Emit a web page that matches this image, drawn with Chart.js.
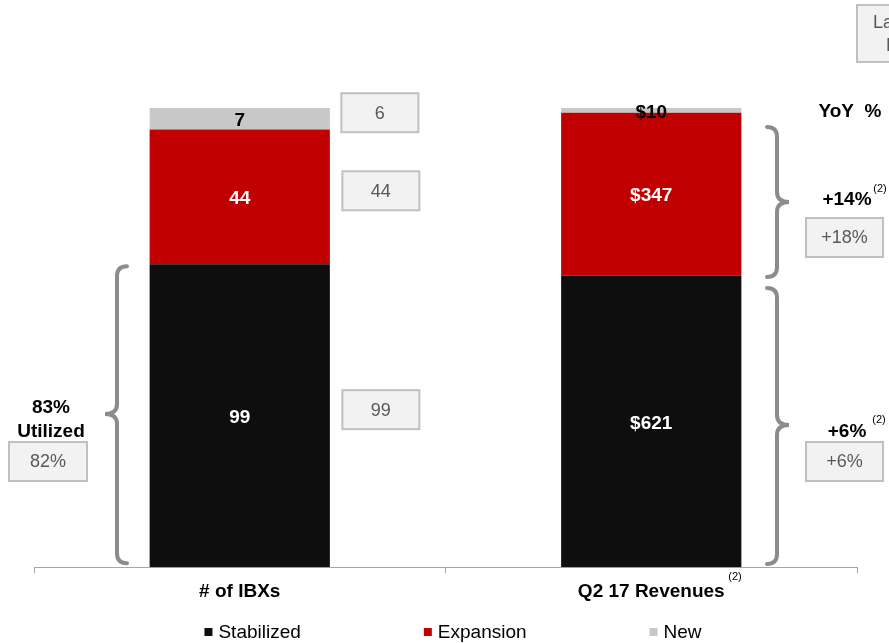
<!DOCTYPE html>
<html>
<head>
<meta charset="utf-8">
<script src="https://cdn.jsdelivr.net/npm/chart.js@4/dist/chart.umd.min.js"></script>
<style>
html,body{margin:0;padding:0;background:#fff;}
#wrap{position:relative;width:889px;height:643px;}
</style>
</head>
<body>
<div id="wrap"><canvas id="c" width="889" height="643"></canvas></div>
<script>
// ---- data ----
const categories = ['# of IBXs', 'Q2 17 Revenues'];
const seriesNames = ['Stabilized', 'Expansion', 'New'];
const stabilized = [99, 621];
const expansion = [44, 347];
const newer = [7, 10];
const valuePrefix = ['', '$'];
const priorIBX = ['99', '44', '6'];          // prior values boxes for # of IBXs (stabilized, expansion, new)
const utilization = ['83%', '82%'];          // current, prior
const yoyCurrent = ['+6%', '+14%'];          // stabilized, expansion
const yoyPrior = ['+6%', '+18%'];
const colors = ['#0e0e0e', '#c00000', '#c8c8c8'];

const FONT = '"Liberation Sans", Arial, sans-serif';
const rawSeries = [stabilized, expansion, newer];
const totals = categories.map((_, i) => rawSeries.reduce((s, arr) => s + arr[i], 0));
const share = arr => arr.map((v, i) => v / totals[i] * 100);

function drawBox(ctx, cx, cy, w, h, text) {
  ctx.save();
  ctx.fillStyle = '#f2f2f2';
  ctx.strokeStyle = '#c0c0c0';
  ctx.lineWidth = 2;
  ctx.fillRect(cx - w / 2, cy - h / 2, w, h);
  ctx.strokeRect(cx - w / 2, cy - h / 2, w, h);
  ctx.fillStyle = '#595959';
  ctx.font = '18px ' + FONT;
  ctx.textAlign = 'center';
  ctx.textBaseline = 'middle';
  ctx.fillText(text, cx, cy + 1);
  ctx.restore();
}
function text(ctx, s, x, y, size, bold, align, color) {
  ctx.save();
  ctx.font = (bold ? 'bold ' : '') + size + 'px ' + FONT;
  ctx.fillStyle = color || '#000';
  ctx.textAlign = align || 'center';
  ctx.textBaseline = 'middle';
  ctx.fillText(s, x, y);
  ctx.restore();
}
// brace: dir = -1 points left ("{"), +1 points right ("}")
function brace(ctx, x, top, bottom, mid, dir) {
  const r = 10, p = 12;
  ctx.save();
  ctx.strokeStyle = '#8c8c8c';
  ctx.lineWidth = 4;
  ctx.lineCap = 'round';
  ctx.beginPath();
  ctx.moveTo(x - dir * r, top);
  ctx.quadraticCurveTo(x, top, x, top + r);
  ctx.lineTo(x, mid - r);
  ctx.quadraticCurveTo(x, mid, x + dir * p, mid);
  ctx.quadraticCurveTo(x, mid, x, mid + r);
  ctx.lineTo(x, bottom - r);
  ctx.quadraticCurveTo(x, bottom, x - dir * r, bottom);
  ctx.stroke();
  ctx.restore();
}

const overlay = {
  id: 'overlay',
  afterDatasetsDraw(chart) {
    const ctx = chart.ctx;
    // value labels
    chart.data.datasets.forEach((ds, di) => {
      const meta = chart.getDatasetMeta(di);
      meta.data.forEach((el, i) => {
        const y = (el.y + el.base) / 2 + 2;
        text(ctx, valuePrefix[i] + ds.raw[i], el.x, y, 19, true, 'center', di === 2 ? '#000' : '#fff');
      });
    });
    const m0 = chart.getDatasetMeta(0).data, m1 = chart.getDatasetMeta(1).data, m2 = chart.getDatasetMeta(2).data;
    const L = 0;
    const barW = m0[L].width;
    // left bar prior boxes
    const bx = m0[L].x + barW / 2 + 51;
    drawBox(ctx, bx, (m0[L].y + m0[L].base) / 2 - 6, 77, 39, priorIBX[0]);
    drawBox(ctx, bx, (m1[L].y + m1[L].base) / 2 - 6, 77, 39, priorIBX[1]);
    drawBox(ctx, bx - 1, (m2[L].y + m2[L].base) / 2 - 6, 77, 39, priorIBX[2]);
    // utilization
    brace(ctx, 117, m0[L].y + 2, m0[L].base - 4, 414, -1);
    text(ctx, utilization[0], 51, 408, 19, true);
    text(ctx, 'Utilized', 51, 432, 19, true);
    drawBox(ctx, 48, 461.5, 78, 39, utilization[1]);
    // right side
    text(ctx, 'YoY  %', 850, 112, 19, true);
    brace(ctx, 777, 127, 277, 202, 1);
    brace(ctx, 777, 288, 564, 425, 1);
    text(ctx, yoyCurrent[1], 847, 200, 19, true);
    text(ctx, '(2)', 880, 189, 11, false);
    drawBox(ctx, 844.5, 237.5, 77, 39, yoyPrior[1]);
    text(ctx, yoyCurrent[0], 847, 432, 19, true);
    text(ctx, '(2)', 879, 420, 11, false);
    drawBox(ctx, 844.5, 461.5, 77, 39, yoyPrior[0]);
    // superscript on category label
    text(ctx, '(2)', 735, 577, 11, false);
    // cut-off top-right box
    ctx.save();
    ctx.fillStyle = '#f2f2f2'; ctx.strokeStyle = '#c0c0c0'; ctx.lineWidth = 2;
    ctx.fillRect(857, 5, 60, 57); ctx.strokeRect(857, 5, 60, 57);
    ctx.restore();
    text(ctx, 'Last Quarter', 873, 23, 18, false, 'left', '#595959');
    text(ctx, 'Results', 886, 46, 18, false, 'left', '#595959');
    // legend
    ctx.save();
    ctx.font = '19px ' + FONT;
    const gap = 123, box = 8, tgap = 6;
    const widths = seriesNames.map(n => box + tgap + ctx.measureText(n).width);
    const total = widths.reduce((a, b) => a + b, 0) + gap * (widths.length - 1);
    let x = 453 - total / 2;
    const ly = 632;
    seriesNames.forEach((n, i) => {
      ctx.fillStyle = colors[i];
      ctx.fillRect(x, ly - box / 2, box, box);
      ctx.fillStyle = '#000';
      ctx.textAlign = 'left';
      ctx.textBaseline = 'middle';
      ctx.fillText(n, x + box + tgap, ly + 1);
      x += widths[i] + gap;
    });
    ctx.restore();
  }
};

new Chart(document.getElementById('c'), {
  type: 'bar',
  data: {
    labels: categories,
    datasets: seriesNames.map((n, i) => ({
      label: n,
      data: share(rawSeries[i]),
      raw: rawSeries[i],
      backgroundColor: colors[i],
      borderWidth: 0,
      barPercentage: 0.438,
      categoryPercentage: 1.0
    }))
  },
  options: {
    responsive: false,
    animation: false,
    events: [],
    layout: { padding: { top: 108, left: 34, right: 32, bottom: 33 } },
    plugins: { legend: { display: false }, tooltip: { enabled: false } },
    scales: {
      x: {
        stacked: true,
        grid: { display: true, drawOnChartArea: false, drawTicks: true, tickLength: 6, color: '#a6a6a6', lineWidth: 1 },
        border: { display: true, color: '#a6a6a6', width: 1 },
        ticks: { color: '#000', font: { family: FONT, size: 19, weight: 'bold' }, padding: 7 }
      },
      y: { stacked: true, display: false, min: 0, max: 100 }
    }
  },
  plugins: [overlay]
});
</script>
</body>
</html>
